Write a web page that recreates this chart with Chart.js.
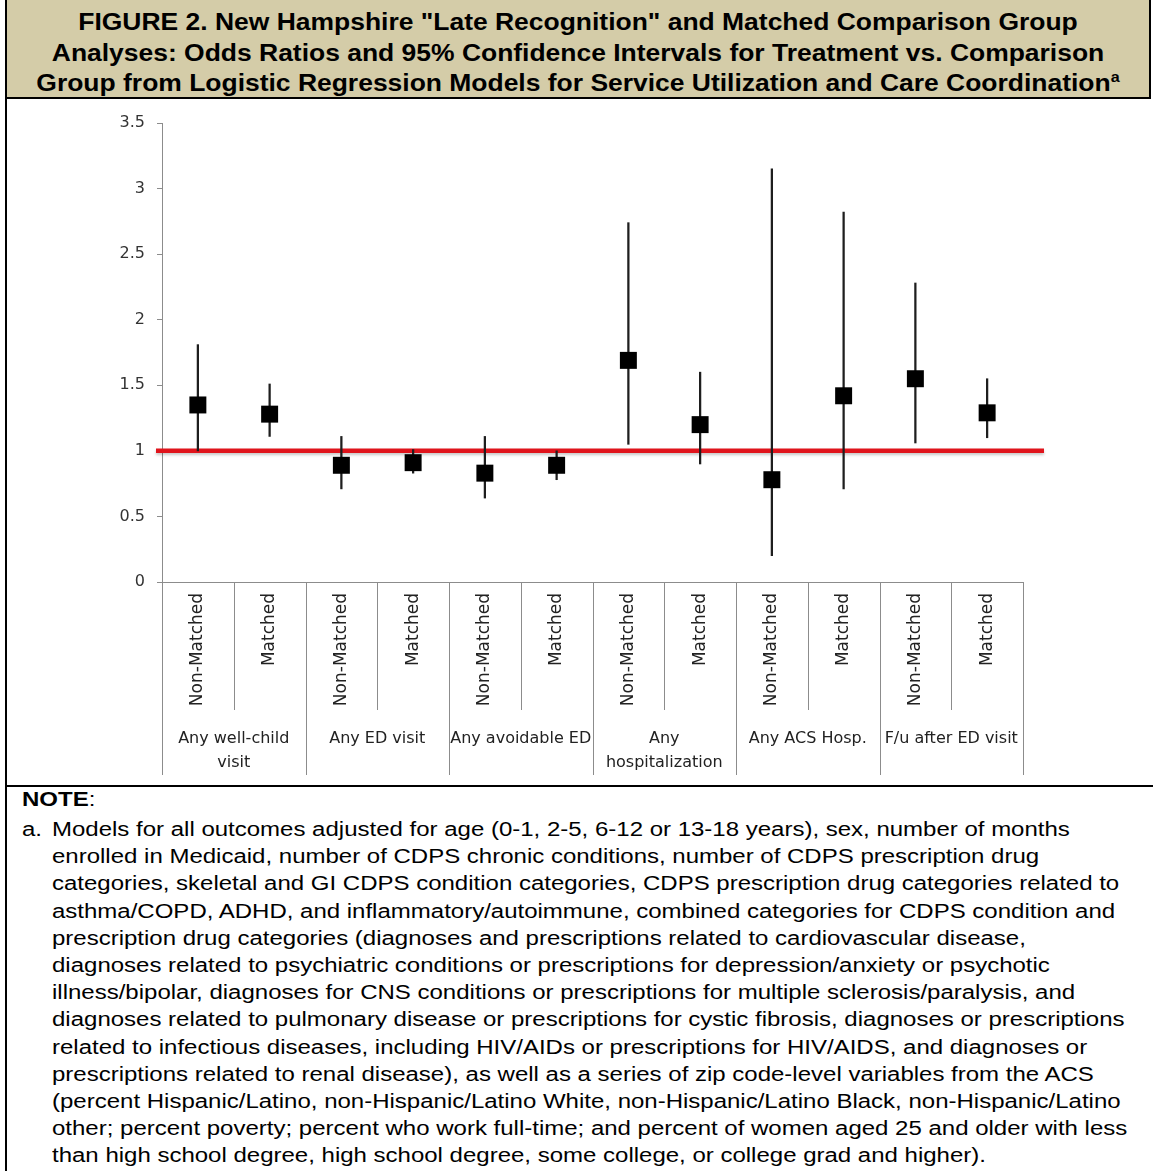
<!DOCTYPE html>
<html><head><meta charset="utf-8">
<script src="https://cdn.jsdelivr.net/npm/chart.js@4.4.1/dist/chart.umd.min.js"></script>
<style>
html,body{margin:0;padding:0;background:#fff;}
body{width:1153px;height:1171px;position:relative;overflow:hidden;font-family:"Liberation Sans",Arial,sans-serif;color:#000;}
#leftBorder{position:absolute;left:5px;top:0;width:2px;height:1171px;background:#000;}
#title{position:absolute;left:5px;top:0;width:1146px;height:99px;box-sizing:border-box;background:#d4cca8;border-left:2px solid #000;border-right:2px solid #000;border-bottom:2px solid #000;padding-top:7px;overflow:hidden;}
#titleText{font-weight:bold;font-size:23px;line-height:30.5px;text-align:center;white-space:nowrap;transform:scaleX(1.15);transform-origin:50% 0;}
#titleText sup{font-size:14px;line-height:0;vertical-align:9px;}
#chartBox{position:absolute;left:0;top:99px;width:1153px;height:686px;}
#sep{position:absolute;left:5px;top:785px;width:1148px;height:2px;background:#000;}
.note{position:absolute;font-size:20px;line-height:27.2px;white-space:nowrap;transform:scaleX(1.2);transform-origin:0 0;}
#noteHead{left:22px;top:786px;}
#noteMark{left:22px;top:816px;}
#noteBody{left:52px;top:816px;}
</style>
</head>
<body>
<div id="title"><div id="titleText">FIGURE 2. New Hampshire "Late Recognition" and Matched Comparison Group<br>Analyses: Odds Ratios and 95% Confidence Intervals for Treatment vs. Comparison<br>Group from Logistic Regression Models for Service Utilization and Care Coordination<sup>a</sup></div></div>
<div id="leftBorder"></div>
<div id="chartBox"><canvas id="c" width="1153" height="686"></canvas></div>
<div id="sep"></div>
<div id="noteHead" class="note"><b>NOTE</b>:</div>
<div id="noteMark" class="note">a.</div>
<div id="noteBody" class="note">Models for all outcomes adjusted for age (0-1, 2-5, 6-12 or 13-18 years), sex, number of months<br>enrolled in Medicaid, number of CDPS chronic conditions, number of CDPS prescription drug<br>categories, skeletal and GI CDPS condition categories, CDPS prescription drug categories related to<br>asthma/COPD, ADHD, and inflammatory/autoimmune, combined categories for CDPS condition and<br>prescription drug categories (diagnoses and prescriptions related to cardiovascular disease,<br>diagnoses related to psychiatric conditions or prescriptions for depression/anxiety or psychotic<br>illness/bipolar, diagnoses for CNS conditions or prescriptions for multiple sclerosis/paralysis, and<br>diagnoses related to pulmonary disease or prescriptions for cystic fibrosis, diagnoses or prescriptions<br>related to infectious diseases, including HIV/AIDs or prescriptions for HIV/AIDS, and diagnoses or<br>prescriptions related to renal disease), as well as a series of zip code-level variables from the ACS<br>(percent Hispanic/Latino, non-Hispanic/Latino White, non-Hispanic/Latino Black, non-Hispanic/Latino<br>other; percent poverty; percent who work full-time; and percent of women aged 25 and older with less<br>than high school degree, high school degree, some college, or college grad and higher).</div>
<script>
// ---- data ----
const outcomes = [["Any well-child","visit"],["Any ED visit"],["Any avoidable ED"],["Any","hospitalization"],["Any ACS Hosp."],["F/u after ED visit"]];
const groups = ["Non-Matched","Matched"];
const oddsRatio = [1.35,1.28, 0.89,0.91, 0.83,0.89, 1.69,1.20, 0.78,1.42, 1.55,1.29];
const ciLower   = [1.00,1.11, 0.71,0.83, 0.64,0.78, 1.05,0.90, 0.20,0.71, 1.06,1.10];
const ciUpper   = [1.81,1.51, 1.11,1.01, 1.11,1.00, 2.74,1.60, 3.15,2.82, 2.28,1.55];
const yTicks = [0,0.5,1,1.5,2,2.5,3,3.5];
const yTickLabels = ["0","0.5","1","1.5","2","2.5","3","3.5"];
const referenceValue = 1;

const labels = [];
outcomes.forEach(() => groups.forEach(g => labels.push(g)));
const ciRanges = ciLower.map((lo, i) => [lo, ciUpper[i]]);

const axisColor = '#8c8c8c';

const refLinePlugin = {
  id: 'refLine',
  beforeDatasetsDraw(chart) {
    const {ctx, chartArea} = chart;
    const y = chart.scales.y.getPixelForValue(referenceValue);
    ctx.save();
    ctx.shadowColor = 'rgba(0,0,0,0.22)';
    ctx.shadowBlur = 3;
    ctx.shadowOffsetY = 2;
    ctx.strokeStyle = '#e0141c';
    ctx.lineWidth = 4.5;
    ctx.beginPath();
    ctx.moveTo(chartArea.left - 6, y);
    ctx.lineTo(chartArea.right + 21, y);
    ctx.stroke();
    ctx.restore();
  }
};

const xLabelsPlugin = {
  id: 'xLabels',
  afterDraw(chart) {
    const {ctx} = chart;
    const xs = chart.scales.x;
    const axisY = xs.top;
    const step = xs.getPixelForValue(1) - xs.getPixelForValue(0);
    const half = step / 2;
    ctx.save();
    ctx.strokeStyle = axisColor;
    ctx.lineWidth = 1;
    for (let i = 0; i <= labels.length; i++) {
      const x = Math.round(i < labels.length ? xs.getPixelForValue(i) - half : xs.getPixelForValue(labels.length - 1) + half) + 0.5;
      const isGroup = i % groups.length === 0;
      ctx.beginPath();
      ctx.moveTo(x, axisY);
      ctx.lineTo(x, axisY + (isGroup ? 193 : 128));
      ctx.stroke();
    }
    ctx.fillStyle = '#222';
    ctx.font = '17px "DejaVu Sans"';
    labels.forEach((lab, i) => {
      const x = xs.getPixelForValue(i);
      ctx.save();
      ctx.translate(x, axisY + 11);
      ctx.rotate(-Math.PI / 2);
      ctx.textAlign = 'right';
      ctx.textBaseline = 'middle';
      ctx.fillText(lab, 0, 0);
      ctx.restore();
    });
    ctx.font = '16px "DejaVu Sans"';
    ctx.textAlign = 'center';
    ctx.textBaseline = 'middle';
    outcomes.forEach((lines, g) => {
      const x0 = xs.getPixelForValue(g * groups.length);
      const x1 = xs.getPixelForValue(g * groups.length + groups.length - 1);
      const cx = (x0 + x1) / 2;
      lines.forEach((t, k) => ctx.fillText(t, cx, axisY + 157 + k * 24));
    });
    ctx.restore();
  }
};

new Chart(document.getElementById('c'), {
  type: 'bar',
  data: {
    labels: labels,
    datasets: [
      {
        type: 'line',
        data: oddsRatio,
        showLine: false,
        pointStyle: 'rect',
        pointRadius: 12,
        pointHoverRadius: 12,
        pointBackgroundColor: '#000',
        pointBorderWidth: 0,
        borderColor: '#000',
        order: 0
      },
      {
        type: 'bar',
        data: ciRanges,
        backgroundColor: '#1e1e1e',
        borderWidth: 0,
        barThickness: 1.6,
        order: 1
      }
    ]
  },
  options: {
    responsive: false,
    animation: false,
    events: [],
    layout: { padding: { left: 0, right: 130, top: 24, bottom: 0 } },
    plugins: { legend: { display: false }, tooltip: { enabled: false } },
    scales: {
      x: {
        type: 'category',
        offset: true,
        grid: { display: false },
        border: { display: true, color: axisColor, width: 1 },
        ticks: { display: false },
        afterFit(s) { s.height = 203; }
      },
      y: {
        min: 0, max: 3.5,
        afterBuildTicks(s) { s.ticks = yTicks.map(v => ({ value: v })); },
        grid: { display: true, drawOnChartArea: false, drawTicks: true, tickLength: 5, color: axisColor },
        border: { display: true, color: axisColor, width: 1 },
        ticks: {
          padding: 12, color: '#333', font: { family: 'DejaVu Sans', size: 16 },
          callback: (v, i) => yTickLabels[i]
        },
        afterFit(s) { s.width = 162; }
      }
    }
  },
  plugins: [refLinePlugin, xLabelsPlugin]
});
</script>
</body></html>
